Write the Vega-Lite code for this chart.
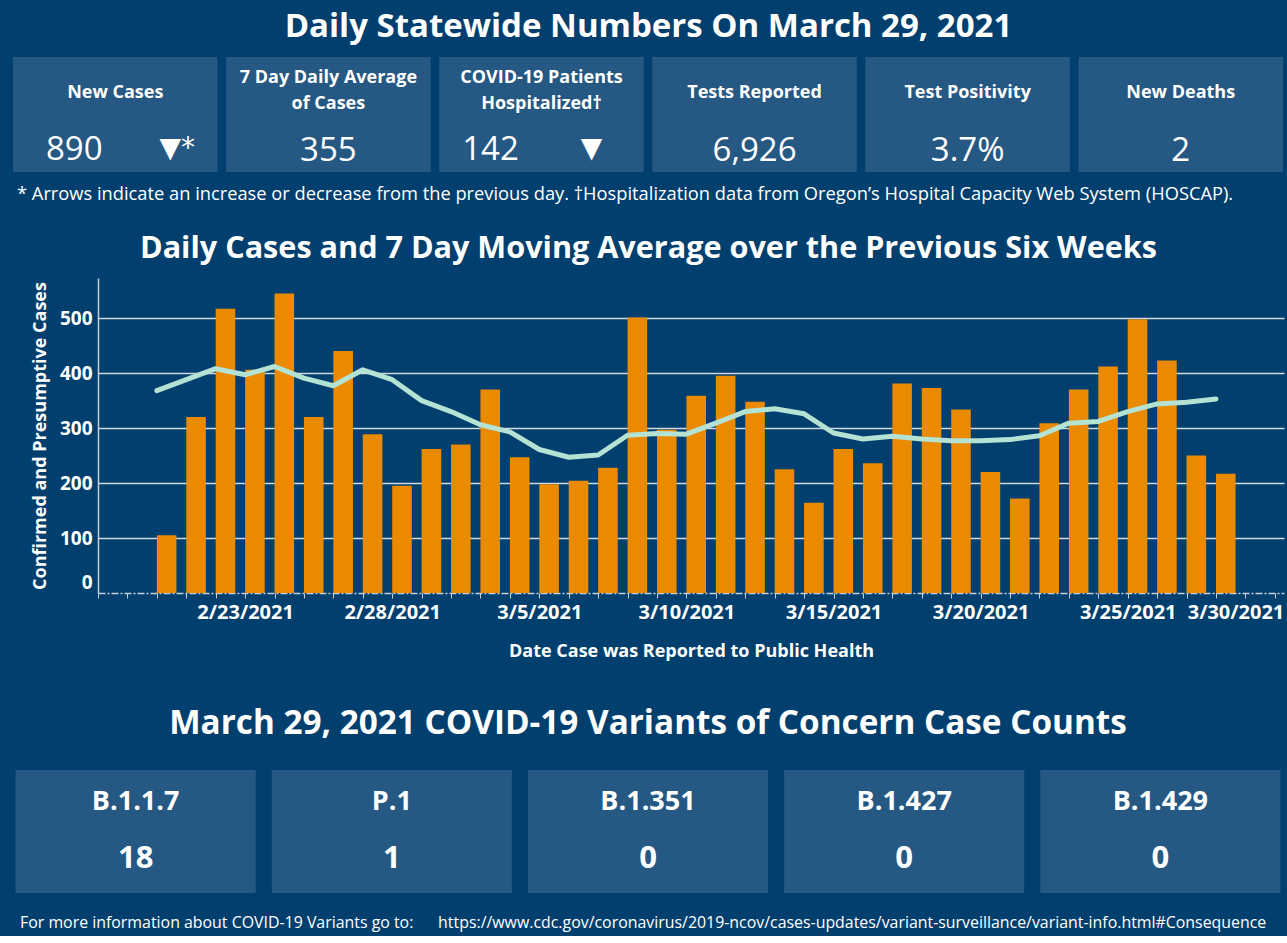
{
  "$schema": "https://vega.github.io/schema/vega-lite/v6.json",
  "background": "#013f6e",
  "padding": {"left": 13, "right": 3, "top": 11, "bottom": 5},
  "config": {
    "view": {"stroke": null},
    "font": "Open Sans",
    "title": {"color": "#ffffff", "font": "Open Sans"},
    "text": {"font": "Open Sans"}
  },
  "title": {"text": "Daily Statewide Numbers On March 29, 2021", "fontSize": 33, "fontWeight": "bold", "color": "#ffffff", "anchor": "middle", "offset": 13},
  "spacing": 30,
  "vconcat": [
    {
      "width": 1270,
      "height": 115,
      "title": {"text": "* Arrows indicate an increase or decrease from the previous day. †Hospitalization data from Oregon’s Hospital Capacity Web System (HOSCAP).", "orient": "bottom", "anchor": "start", "fontSize": 18.3, "fontWeight": "normal", "color": "#ffffff", "offset": 14, "dx": 4},
      "data": {"values": [
        {"metric": "New Cases", "label": "New Cases", "value": "890", "arrow": "▼*"},
        {"metric": "7 Day Daily Average of Cases", "label": "7 Day Daily Average\nof Cases", "value": "355", "arrow": ""},
        {"metric": "COVID-19 Patients Hospitalized", "label": "COVID-19 Patients\nHospitalized†", "value": "142", "arrow": "▼"},
        {"metric": "Tests Reported", "label": "Tests Reported", "value": "6,926", "arrow": ""},
        {"metric": "Test Positivity", "label": "Test Positivity", "value": "3.7%", "arrow": ""},
        {"metric": "New Deaths", "label": "New Deaths", "value": "2", "arrow": ""}
      ]},
      "encoding": {
        "x": {"field": "metric", "type": "nominal", "sort": null, "axis": null, "scale": {"paddingInner": 0.04, "paddingOuter": 0}}
      },
      "layer": [
        {"mark": {"type": "rect", "color": "#255882"}},
        {"transform": [{"filter": "datum.metric != '7 Day Daily Average of Cases' && datum.metric != 'COVID-19 Patients Hospitalized'"}],
         "mark": {"type": "text", "color": "#ffffff", "fontSize": 18, "fontWeight": "bold", "dy": -22},
         "encoding": {"text": {"field": "label", "type": "nominal"}}},
        {"transform": [{"filter": "datum.metric == '7 Day Daily Average of Cases' || datum.metric == 'COVID-19 Patients Hospitalized'"}],
         "mark": {"type": "text", "color": "#ffffff", "fontSize": 18, "fontWeight": "bold", "lineBreak": "\n", "lineHeight": 26, "dy": -37},
         "encoding": {"text": {"field": "label", "type": "nominal"}}},
        {"transform": [{"filter": "datum.arrow == ''"}],
         "mark": {"type": "text", "color": "#ffffff", "fontSize": 33, "dy": 36},
         "encoding": {"text": {"field": "value", "type": "nominal"}}},
        {"transform": [{"filter": "datum.metric == 'New Cases'"}],
         "mark": {"type": "text", "color": "#ffffff", "fontSize": 33, "dy": 35, "dx": -41},
         "encoding": {"text": {"field": "value", "type": "nominal"}}},
        {"transform": [{"filter": "datum.metric == 'New Cases'"}],
         "mark": {"type": "text", "color": "#ffffff", "fontSize": 28, "font": "DejaVu Sans", "dy": 34, "dx": 62},
         "encoding": {"text": {"field": "arrow", "type": "nominal"}}},
        {"transform": [{"filter": "datum.metric == 'COVID-19 Patients Hospitalized'"}],
         "mark": {"type": "text", "color": "#ffffff", "fontSize": 33, "dy": 35, "dx": -51},
         "encoding": {"text": {"field": "value", "type": "nominal"}}},
        {"transform": [{"filter": "datum.metric == 'COVID-19 Patients Hospitalized'"}],
         "mark": {"type": "text", "color": "#ffffff", "fontSize": 28, "font": "DejaVu Sans", "dy": 34, "dx": 50},
         "encoding": {"text": {"field": "arrow", "type": "nominal"}}}
      ]
    },
    {
      "title": {"text": "For more information about COVID-19 Variants go to:\u00a0\u00a0\u00a0\u00a0\u00a0\u00a0https://www.cdc.gov/coronavirus/2019-ncov/cases-updates/variant-surveillance/variant-info.html#Consequence", "orient": "bottom", "anchor": "start", "fontSize": 15.9, "fontWeight": "normal", "color": "#ffffff", "offset": 22, "dx": 7},
      "spacing": 46,
      "vconcat": [
        {
          "width": 1271,
          "height": 315,
          "title": {"text": "Daily Cases and 7 Day Moving Average over the Previous Six Weeks", "fontSize": 30.6, "fontWeight": "bold", "color": "#ffffff", "anchor": "middle", "offset": 13},
          "data": {"values": [
            {"date": "2021/02/20", "cases": 105, "avg": 368},
            {"date": "2021/02/21", "cases": 320, "avg": 388},
            {"date": "2021/02/22", "cases": 517, "avg": 408},
            {"date": "2021/02/23", "cases": 406, "avg": 397},
            {"date": "2021/02/24", "cases": 545, "avg": 412},
            {"date": "2021/02/25", "cases": 320, "avg": 391},
            {"date": "2021/02/26", "cases": 440, "avg": 377},
            {"date": "2021/02/27", "cases": 289, "avg": 406},
            {"date": "2021/02/28", "cases": 195, "avg": 388},
            {"date": "2021/03/01", "cases": 262, "avg": 350},
            {"date": "2021/03/02", "cases": 270, "avg": 330},
            {"date": "2021/03/03", "cases": 370, "avg": 306},
            {"date": "2021/03/04", "cases": 247, "avg": 293},
            {"date": "2021/03/05", "cases": 198, "avg": 261},
            {"date": "2021/03/06", "cases": 204, "avg": 247},
            {"date": "2021/03/07", "cases": 228, "avg": 251},
            {"date": "2021/03/08", "cases": 501, "avg": 287},
            {"date": "2021/03/09", "cases": 297, "avg": 290},
            {"date": "2021/03/10", "cases": 359, "avg": 289},
            {"date": "2021/03/11", "cases": 395, "avg": 309},
            {"date": "2021/03/12", "cases": 348, "avg": 330},
            {"date": "2021/03/13", "cases": 225, "avg": 335},
            {"date": "2021/03/14", "cases": 164, "avg": 326},
            {"date": "2021/03/15", "cases": 262, "avg": 291},
            {"date": "2021/03/16", "cases": 236, "avg": 280},
            {"date": "2021/03/17", "cases": 381, "avg": 285},
            {"date": "2021/03/18", "cases": 373, "avg": 280},
            {"date": "2021/03/19", "cases": 334, "avg": 277},
            {"date": "2021/03/20", "cases": 220, "avg": 277},
            {"date": "2021/03/21", "cases": 172, "avg": 279},
            {"date": "2021/03/22", "cases": 309, "avg": 286},
            {"date": "2021/03/23", "cases": 370, "avg": 309},
            {"date": "2021/03/24", "cases": 412, "avg": 312},
            {"date": "2021/03/25", "cases": 498, "avg": 330},
            {"date": "2021/03/26", "cases": 423, "avg": 344},
            {"date": "2021/03/27", "cases": 250, "avg": 347},
            {"date": "2021/03/28", "cases": 217, "avg": 353}
          ]},
          "encoding": {
            "x": {
              "field": "date", "type": "temporal",
              "scale": {"domain": [{"year": 2021, "month": 2, "date": 18}, {"year": 2021, "month": 3, "date": 30, "hours": 7, "minutes": 30}], "range": [85, 1271], "padding": 0},
              "axis": {
                "title": "Date Case was Reported to Public Health",
                "format": "%-m/%-d/%Y",
                "tickCount": {"interval": "day", "step": 1},
                "labelExpr": "indexof(['2/23/2021','2/28/2021','3/5/2021','3/10/2021','3/15/2021','3/20/2021','3/25/2021','3/30/2021'], datum.label) >= 0 ? datum.label : ''",
                "labelOverlap": false,
                "labelFlush": 15,
                "labelFlushOffset": 9,
                "labelFontSize": 20,
                "labelFontWeight": "bold",
                "labelColor": "#ffffff",
                "labelPadding": 4,
                "tickSize": 5,
                "tickColor": "#c9ced6",
                "domainColor": "#c9ced6",
                "domainDash": [7, 2, 2, 2],
                "domainWidth": 1.5,
                "grid": false,
                "titleFontSize": 18,
                "titleFontWeight": "bold",
                "titleColor": "#ffffff",
                "titlePadding": 20
              }
            }
          },
          "layer": [
            {
              "mark": {"type": "bar", "color": "#e98a00", "width": 19.6, "xOffset": 9.8},
              "encoding": {
                "y": {
                  "field": "cases", "type": "quantitative",
                  "scale": {"domain": [0, 573], "nice": false},
                  "axis": {
                    "title": "Confirmed and Presumptive Cases",
                    "values": [0, 100, 200, 300, 400, 500],
                    "offset": -85,
                    "labelFontSize": 19,
                    "labelFontWeight": "bold",
                    "labelColor": "#ffffff",
                    "labelPadding": 6,
                    "ticks": false,
                    "domainColor": "#c9ced6",
                    "domainWidth": 1.5,
                    "grid": true,
                    "gridColor": {"condition": {"test": "datum.value === 0", "value": "transparent"}, "value": "#d3d7de"},
                    "gridWidth": 1.5,
                    "labelFlush": true,
                    "labelFlushOffset": -1,
                    "titleFontSize": 18,
                    "titleFontWeight": "bold",
                    "titleColor": "#ffffff",
                    "titlePadding": 10
                  }
                }
              }
            },
            {
              "mark": {"type": "line", "color": "#b4e2d3", "strokeWidth": 5, "strokeCap": "round", "strokeJoin": "round"},
              "encoding": {"y": {"field": "avg", "type": "quantitative"}}
            }
          ]
        },
        {
          "width": 1270,
          "height": 123,
          "title": {"text": "March 29, 2021 COVID-19 Variants of Concern Case Counts", "fontSize": 33.3, "fontWeight": "bold", "color": "#ffffff", "anchor": "middle", "offset": 29},
          "data": {"values": [
            {"variant": "B.1.1.7", "count": 18},
            {"variant": "P.1", "count": 1},
            {"variant": "B.1.351", "count": 0},
            {"variant": "B.1.427", "count": 0},
            {"variant": "B.1.429", "count": 0}
          ]},
          "encoding": {
            "x": {"field": "variant", "type": "nominal", "sort": null, "axis": null, "scale": {"paddingInner": 0.0625, "paddingOuter": 0.01}}
          },
          "layer": [
            {"mark": {"type": "rect", "color": "#255882"}},
            {"mark": {"type": "text", "color": "#ffffff", "fontSize": 27, "fontWeight": "bold", "dy": -30},
             "encoding": {"text": {"field": "variant", "type": "nominal"}}},
            {"mark": {"type": "text", "color": "#ffffff", "fontSize": 31, "fontWeight": "bold", "dy": 27},
             "encoding": {"text": {"field": "count", "type": "quantitative"}}}
          ]
        }
      ]
    }
  ]
}
